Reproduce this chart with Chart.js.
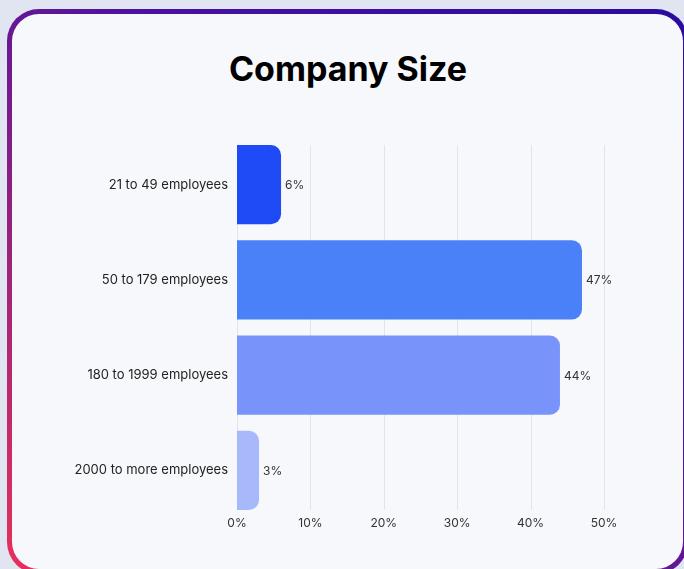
<!DOCTYPE html>
<html>
<head>
<meta charset="utf-8">
<script src="https://cdn.jsdelivr.net/npm/chart.js@4"></script>
<style>
  html, body { margin: 0; padding: 0; }
  body {
    width: 684px; height: 569px; overflow: hidden; position: relative;
    background: #e1e4f1;
    font-family: Inter, "Noto Sans", sans-serif;
  }
  .card-border {
    position: absolute; left: 7px; top: 9px; width: 681px; height: 565px;
    border-radius: 32px;
    background: linear-gradient(to top right, #e8315a 0%, #8a1f82 35%, #4a12a0 60%, #2a0a9e 100%);
  }
  .card {
    position: absolute; left: 5px; top: 5px; right: 5px; bottom: 5px;
    border-radius: 27px; background: #f7f8fc;
  }
  .title {
    position: absolute; left: 0; top: 52px; width: 696px;
    text-align: center; margin: 0;
    font-size: 34px; line-height: 34px; font-weight: 700; color: #000;
  }
  .chart-box { position: absolute; left: 0; top: 0; width: 684px; height: 569px; }
</style>
</head>
<body>
<div class="card-border"><div class="card"></div></div>
<h1 class="title">Company Size</h1>
<div class="chart-box"><canvas id="sizeChart"></canvas></div>
<script>
const categories = ['21 to 49 employees', '50 to 179 employees', '180 to 1999 employees', '2000 to more employees'];
const shares = [6, 47, 44, 3];
const barColors = ['#1e4bf6', '#4a81f8', '#7894fa', '#a8b9fb'];
const axisTicks = [0, 10, 20, 30, 40, 50];

// vertical grid lines, running only from the first bar's top to the last bar's bottom
const barGrid = {
  id: 'barGrid',
  beforeDatasetsDraw(chart) {
    const ctx = chart.ctx;
    const bars = chart.getDatasetMeta(0).data;
    const top = bars[0].y - bars[0].height / 2;
    const last = bars[bars.length - 1];
    const bottom = last.y + last.height / 2;
    ctx.save();
    ctx.strokeStyle = '#e2e4ea';
    ctx.lineWidth = 1;
    axisTicks.forEach(t => {
      const x = Math.round(chart.scales.x.getPixelForValue(t)) + 0.5;
      ctx.beginPath();
      ctx.moveTo(x, top);
      ctx.lineTo(x, bottom);
      ctx.stroke();
    });
    ctx.restore();
  }
};

// writes the percentage just past the end of each bar
const valueLabels = {
  id: 'valueLabels',
  afterDatasetsDraw(chart) {
    const ctx = chart.ctx;
    const meta = chart.getDatasetMeta(0);
    ctx.save();
    ctx.font = '12px Inter, "Noto Sans", sans-serif';
    ctx.fillStyle = '#333';
    ctx.textAlign = 'left';
    ctx.textBaseline = 'middle';
    meta.data.forEach((bar, i) => {
      ctx.fillText(shares[i] + '%', bar.x + 4, bar.y + 1);
    });
    ctx.restore();
  }
};

const ctx = document.getElementById('sizeChart').getContext('2d');
const sizeChart = new Chart(ctx, {
  type: 'bar',
  data: {
    labels: categories,
    datasets: [{
      data: shares,
      backgroundColor: barColors,
      borderRadius: 10,
      borderSkipped: 'start',
      categoryPercentage: 0.83,
      barPercentage: 1
    }]
  },
  options: {
    indexAxis: 'y',
    responsive: true,
    maintainAspectRatio: false,
    animation: false,
    layout: { padding: { left: 0, right: 80, top: 137, bottom: 0 } },
    plugins: {
      legend: { display: false },
      tooltip: { enabled: false }
    },
    scales: {
      x: {
        min: 0,
        max: 50,
        afterBuildTicks: scale => {
          scale.ticks = axisTicks.map(v => ({ value: v }));
        },
        afterFit: scale => { scale.height = 51; },
        border: { display: false },
        grid: { display: false, drawTicks: false },
        ticks: {
          padding: -2,
          color: '#333',
          font: { family: 'Inter, "Noto Sans", sans-serif', size: 12 },
          callback: v => v + '%'
        }
      },
      y: {
        afterFit: scale => { scale.width = 237; },
        border: { display: false },
        grid: { display: false, drawTicks: false },
        ticks: {
          padding: 9,
          color: '#222',
          font: { family: 'Inter, "Noto Sans", sans-serif', size: 13 }
        }
      }
    }
  },
  plugins: [barGrid, valueLabels]
});
</script>
</body>
</html>
